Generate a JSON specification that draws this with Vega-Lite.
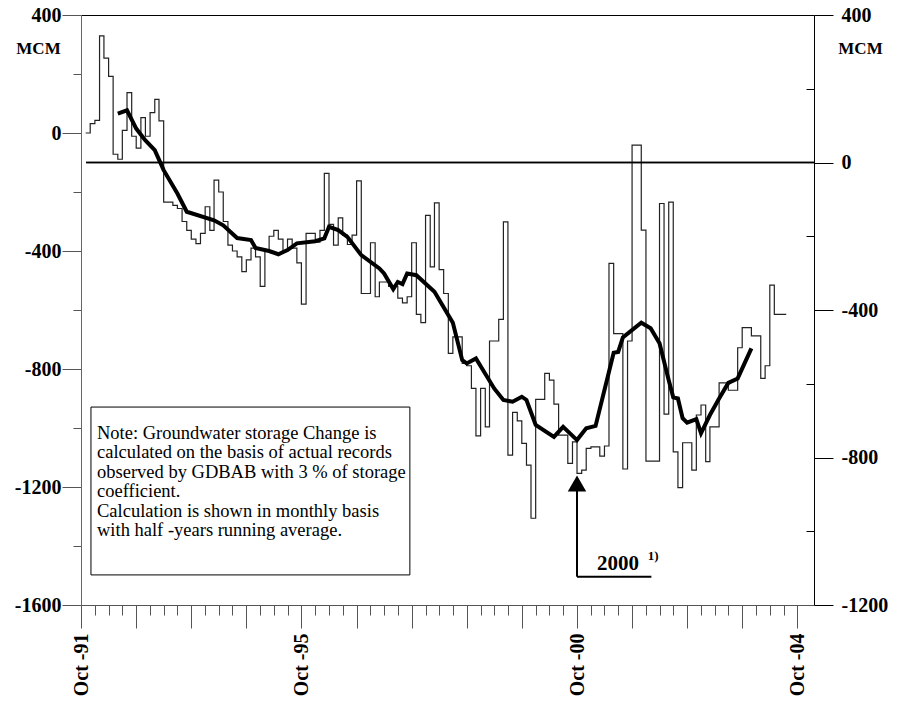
{
  "$schema": "https://vega.github.io/schema/vega-lite/v6.json",
  "width": 733,
  "height": 590,
  "autosize": "none",
  "padding": {"left": 81, "top": 15, "right": 93, "bottom": 104},
  "background": "white",
  "config": {
    "view": {"stroke": null},
    "axis": {"grid": false, "labelFont": "Liberation Serif", "titleFont": "Liberation Serif"}
  },
  "datasets": {
    "monthly": [
      {"date": "1991-11-01", "v": 0}, {"date": "1991-12-01", "v": 32}, {"date": "1992-01-01", "v": 43},
      {"date": "1992-02-01", "v": 329}, {"date": "1992-03-01", "v": 254}, {"date": "1992-04-01", "v": 192},
      {"date": "1992-05-01", "v": -72}, {"date": "1992-06-01", "v": -89}, {"date": "1992-07-01", "v": 9},
      {"date": "1992-08-01", "v": 137}, {"date": "1992-09-01", "v": -11}, {"date": "1992-10-01", "v": -51},
      {"date": "1992-11-01", "v": 52}, {"date": "1992-12-01", "v": -11}, {"date": "1993-01-01", "v": 69},
      {"date": "1993-02-01", "v": 114}, {"date": "1993-03-01", "v": 41}, {"date": "1993-04-01", "v": -234},
      {"date": "1993-05-01", "v": -234}, {"date": "1993-06-01", "v": -245}, {"date": "1993-07-01", "v": -256},
      {"date": "1993-08-01", "v": -300}, {"date": "1993-09-01", "v": -330}, {"date": "1993-10-01", "v": -360},
      {"date": "1993-11-01", "v": -375}, {"date": "1993-12-01", "v": -340}, {"date": "1994-01-01", "v": -250},
      {"date": "1994-02-01", "v": -330}, {"date": "1994-03-01", "v": -160}, {"date": "1994-04-01", "v": -200},
      {"date": "1994-05-01", "v": -300}, {"date": "1994-06-01", "v": -380}, {"date": "1994-07-01", "v": -400},
      {"date": "1994-08-01", "v": -420}, {"date": "1994-09-01", "v": -470}, {"date": "1994-10-01", "v": -430},
      {"date": "1994-11-01", "v": -390}, {"date": "1994-12-01", "v": -420}, {"date": "1995-01-01", "v": -520},
      {"date": "1995-02-01", "v": -400}, {"date": "1995-03-01", "v": -350}, {"date": "1995-04-01", "v": -330},
      {"date": "1995-05-01", "v": -360}, {"date": "1995-06-01", "v": -400}, {"date": "1995-07-01", "v": -360},
      {"date": "1995-08-01", "v": -390}, {"date": "1995-09-01", "v": -440}, {"date": "1995-10-01", "v": -580},
      {"date": "1995-11-01", "v": -340}, {"date": "1995-12-01", "v": -340}, {"date": "1996-01-01", "v": -370},
      {"date": "1996-02-01", "v": -330}, {"date": "1996-03-01", "v": -137}, {"date": "1996-04-01", "v": -310},
      {"date": "1996-05-01", "v": -380}, {"date": "1996-06-01", "v": -288}, {"date": "1996-07-01", "v": -346},
      {"date": "1996-08-01", "v": -378}, {"date": "1996-09-01", "v": -346}, {"date": "1996-10-01", "v": -162},
      {"date": "1996-11-01", "v": -544}, {"date": "1996-12-01", "v": -544}, {"date": "1997-01-01", "v": -372},
      {"date": "1997-02-01", "v": -555}, {"date": "1997-03-01", "v": -505}, {"date": "1997-04-01", "v": -505},
      {"date": "1997-05-01", "v": -520}, {"date": "1997-06-01", "v": -520}, {"date": "1997-07-01", "v": -560},
      {"date": "1997-08-01", "v": -576}, {"date": "1997-09-01", "v": -555}, {"date": "1997-10-01", "v": -372},
      {"date": "1997-11-01", "v": -615}, {"date": "1997-12-01", "v": -643}, {"date": "1998-01-01", "v": -279},
      {"date": "1998-02-01", "v": -454}, {"date": "1998-03-01", "v": -237}, {"date": "1998-04-01", "v": -463},
      {"date": "1998-05-01", "v": -544}, {"date": "1998-06-01", "v": -747}, {"date": "1998-07-01", "v": -691},
      {"date": "1998-08-01", "v": -691}, {"date": "1998-09-01", "v": -781}, {"date": "1998-10-01", "v": -789},
      {"date": "1998-11-01", "v": -866}, {"date": "1998-12-01", "v": -1027}, {"date": "1999-01-01", "v": -866},
      {"date": "1999-02-01", "v": -996}, {"date": "1999-03-01", "v": -705}, {"date": "1999-04-01", "v": -705},
      {"date": "1999-05-01", "v": -632}, {"date": "1999-06-01", "v": -301}, {"date": "1999-07-01", "v": -1092},
      {"date": "1999-08-01", "v": -947}, {"date": "1999-09-01", "v": -976}, {"date": "1999-10-01", "v": -1052},
      {"date": "1999-11-01", "v": -1126}, {"date": "1999-12-01", "v": -1306}, {"date": "2000-01-01", "v": -903},
      {"date": "2000-02-01", "v": -903}, {"date": "2000-03-01", "v": -815}, {"date": "2000-04-01", "v": -838},
      {"date": "2000-05-01", "v": -919}, {"date": "2000-06-01", "v": -1024}, {"date": "2000-07-01", "v": -1024},
      {"date": "2000-08-01", "v": -1120}, {"date": "2000-09-01", "v": -1047}, {"date": "2000-10-01", "v": -1154},
      {"date": "2000-11-01", "v": -1143}, {"date": "2000-12-01", "v": -1069}, {"date": "2001-01-01", "v": -1064},
      {"date": "2001-02-01", "v": -1064}, {"date": "2001-03-01", "v": -1095}, {"date": "2001-04-01", "v": -1061},
      {"date": "2001-05-01", "v": -442}, {"date": "2001-06-01", "v": -680}, {"date": "2001-07-01", "v": -680},
      {"date": "2001-08-01", "v": -1139}, {"date": "2001-09-01", "v": -705}, {"date": "2001-10-01", "v": -41},
      {"date": "2001-11-01", "v": -41}, {"date": "2001-12-01", "v": -329}, {"date": "2002-01-01", "v": -1112},
      {"date": "2002-02-01", "v": -1112}, {"date": "2002-03-01", "v": -1112}, {"date": "2002-04-01", "v": -239},
      {"date": "2002-05-01", "v": -953}, {"date": "2002-06-01", "v": -234}, {"date": "2002-07-01", "v": -1081},
      {"date": "2002-08-01", "v": -1202}, {"date": "2002-09-01", "v": -1050}, {"date": "2002-10-01", "v": -1050},
      {"date": "2002-11-01", "v": -1143}, {"date": "2002-12-01", "v": -956}, {"date": "2003-01-01", "v": -922},
      {"date": "2003-02-01", "v": -1114}, {"date": "2003-03-01", "v": -996}, {"date": "2003-04-01", "v": -996},
      {"date": "2003-05-01", "v": -847}, {"date": "2003-06-01", "v": -847}, {"date": "2003-07-01", "v": -872},
      {"date": "2003-08-01", "v": -872}, {"date": "2003-09-01", "v": -728}, {"date": "2003-10-01", "v": -660},
      {"date": "2003-11-01", "v": -660}, {"date": "2003-12-01", "v": -688}, {"date": "2004-01-01", "v": -688},
      {"date": "2004-02-01", "v": -832}, {"date": "2004-03-01", "v": -789}, {"date": "2004-04-01", "v": -516},
      {"date": "2004-05-01", "v": -615}, {"date": "2004-06-01", "v": -615}, {"date": "2004-07-01", "v": -615},
      {"date": "2004-07-19", "v": -615}
    ],
    "avg": [
      {"date": "1992-06-01", "v": 66}, {"date": "1992-08-01", "v": 77}, {"date": "1992-10-01", "v": 15},
      {"date": "1992-12-01", "v": -25}, {"date": "1993-02-01", "v": -58}, {"date": "1993-04-01", "v": -126},
      {"date": "1993-07-01", "v": -205}, {"date": "1993-09-01", "v": -267}, {"date": "1994-03-01", "v": -296},
      {"date": "1994-05-01", "v": -313}, {"date": "1994-08-01", "v": -356}, {"date": "1994-11-01", "v": -363},
      {"date": "1994-12-01", "v": -390}, {"date": "1995-03-01", "v": -400}, {"date": "1995-05-01", "v": -411},
      {"date": "1995-07-01", "v": -397}, {"date": "1995-09-01", "v": -374}, {"date": "1996-01-01", "v": -367},
      {"date": "1996-03-01", "v": -357}, {"date": "1996-04-01", "v": -318}, {"date": "1996-06-01", "v": -329},
      {"date": "1996-08-01", "v": -352}, {"date": "1996-11-01", "v": -414}, {"date": "1997-03-01", "v": -459},
      {"date": "1997-04-01", "v": -476}, {"date": "1997-06-01", "v": -529}, {"date": "1997-07-01", "v": -505},
      {"date": "1997-08-01", "v": -512}, {"date": "1997-09-01", "v": -476}, {"date": "1997-11-01", "v": -482},
      {"date": "1998-03-01", "v": -538}, {"date": "1998-07-01", "v": -643}, {"date": "1998-09-01", "v": -770},
      {"date": "1998-10-01", "v": -781}, {"date": "1998-12-01", "v": -764}, {"date": "1999-04-01", "v": -866},
      {"date": "1999-06-01", "v": -905}, {"date": "1999-08-01", "v": -911}, {"date": "1999-10-01", "v": -894},
      {"date": "1999-11-01", "v": -905}, {"date": "2000-01-01", "v": -990}, {"date": "2000-05-01", "v": -1030},
      {"date": "2000-07-01", "v": -996}, {"date": "2000-10-01", "v": -1041}, {"date": "2000-12-01", "v": -1001},
      {"date": "2001-02-01", "v": -993}, {"date": "2001-05-01", "v": -809}, {"date": "2001-06-01", "v": -745},
      {"date": "2001-07-01", "v": -742}, {"date": "2001-08-01", "v": -693}, {"date": "2001-12-01", "v": -643},
      {"date": "2002-02-01", "v": -662}, {"date": "2002-04-01", "v": -713}, {"date": "2002-06-01", "v": -838},
      {"date": "2002-07-01", "v": -896}, {"date": "2002-08-01", "v": -900}, {"date": "2002-09-01", "v": -967},
      {"date": "2002-10-01", "v": -982}, {"date": "2002-12-01", "v": -970}, {"date": "2003-01-01", "v": -1018},
      {"date": "2003-03-01", "v": -956}, {"date": "2003-05-01", "v": -900}, {"date": "2003-07-01", "v": -847},
      {"date": "2003-09-01", "v": -832}, {"date": "2003-12-01", "v": -730}
    ]
  },
  "layer": [
    {
      "layer": [
        {
          "data": {"values": [{}]},
          "mark": {"type": "rect", "fill": "white", "stroke": "black", "strokeWidth": 1},
          "encoding": {
            "x": {"datum": {"year": 1991, "month": 12, "date": 6, "utc": true}, "type": "temporal",
              "scale": {"type": "utc", "domain": [{"year": 1991, "month": 10, "date": 1, "utc": true}, {"year": 2005, "month": 1, "date": 19, "utc": true}]},
              "axis": {"orient": "top", "domain": true, "domainColor": "black", "domainWidth": 1, "ticks": false, "labels": false, "title": null, "grid": false}},
            "x2": {"datum": {"year": 1997, "month": 9, "date": 19, "utc": true}},
            "y": {"datum": -929, "type": "quantitative", "scale": {"domain": [-1600, 400], "nice": false, "zero": false}, "axis": null},
            "y2": {"datum": -1498}
          }
        },
        {
          "data": {"name": "monthly"},
          "mark": {"type": "line", "interpolate": "step-after", "stroke": "#222222", "strokeWidth": 1.2},
          "encoding": {
            "x": {"field": "date", "type": "temporal",
              "scale": {"type": "utc", "domain": [{"year": 1991, "month": 10, "date": 1, "utc": true}, {"year": 2005, "month": 1, "date": 19, "utc": true}]},
              "axis": {"orient": "bottom", "domain": false, "labels": false, "title": null, "grid": false, "tickSize": 10, "tickColor": "#555", "tickWidth": 1,
                "values": [
                  {"year": 1992, "month": 1, "date": 1, "utc": true}, {"year": 1992, "month": 4, "date": 1, "utc": true}, {"year": 1992, "month": 7, "date": 1, "utc": true},
                  {"year": 1993, "month": 1, "date": 1, "utc": true}, {"year": 1993, "month": 4, "date": 1, "utc": true}, {"year": 1993, "month": 7, "date": 1, "utc": true},
                  {"year": 1994, "month": 1, "date": 1, "utc": true}, {"year": 1994, "month": 4, "date": 1, "utc": true}, {"year": 1994, "month": 7, "date": 1, "utc": true},
                  {"year": 1995, "month": 1, "date": 1, "utc": true}, {"year": 1995, "month": 4, "date": 1, "utc": true}, {"year": 1995, "month": 7, "date": 1, "utc": true},
                  {"year": 1996, "month": 1, "date": 1, "utc": true}, {"year": 1996, "month": 4, "date": 1, "utc": true}, {"year": 1996, "month": 7, "date": 1, "utc": true},
                  {"year": 1997, "month": 1, "date": 1, "utc": true}, {"year": 1997, "month": 4, "date": 1, "utc": true}, {"year": 1997, "month": 7, "date": 1, "utc": true},
                  {"year": 1998, "month": 1, "date": 1, "utc": true}, {"year": 1998, "month": 4, "date": 1, "utc": true}, {"year": 1998, "month": 7, "date": 1, "utc": true},
                  {"year": 1999, "month": 1, "date": 1, "utc": true}, {"year": 1999, "month": 4, "date": 1, "utc": true}, {"year": 1999, "month": 7, "date": 1, "utc": true},
                  {"year": 2000, "month": 1, "date": 1, "utc": true}, {"year": 2000, "month": 4, "date": 1, "utc": true}, {"year": 2000, "month": 7, "date": 1, "utc": true},
                  {"year": 2001, "month": 1, "date": 1, "utc": true}, {"year": 2001, "month": 4, "date": 1, "utc": true}, {"year": 2001, "month": 7, "date": 1, "utc": true},
                  {"year": 2002, "month": 1, "date": 1, "utc": true}, {"year": 2002, "month": 4, "date": 1, "utc": true}, {"year": 2002, "month": 7, "date": 1, "utc": true},
                  {"year": 2003, "month": 1, "date": 1, "utc": true}, {"year": 2003, "month": 4, "date": 1, "utc": true}, {"year": 2003, "month": 7, "date": 1, "utc": true},
                  {"year": 2004, "month": 1, "date": 1, "utc": true}, {"year": 2004, "month": 4, "date": 1, "utc": true}, {"year": 2004, "month": 7, "date": 1, "utc": true}
                ]}},
            "y": {"field": "v", "type": "quantitative", "scale": {"domain": [-1600, 400], "nice": false, "zero": false},
              "axis": {"orient": "left", "values": [200, -200, -600, -1000, -1400], "tickSize": 8, "tickColor": "#555", "labels": false, "domain": false, "title": null, "grid": false}}
          }
        },
        {
          "data": {"name": "avg"},
          "mark": {"type": "line", "stroke": "black", "strokeWidth": 4},
          "encoding": {
            "x": {"field": "date", "type": "temporal",
              "scale": {"type": "utc", "domain": [{"year": 1991, "month": 10, "date": 1, "utc": true}, {"year": 2005, "month": 1, "date": 19, "utc": true}]},
              "axis": {"orient": "bottom", "domain": true, "domainColor": "#555", "tickSize": 23, "tickColor": "#555", "title": null, "grid": false,
                "labelExpr": "indexof([1991,1995,2000,2004], utcyear(datum.value)) >= 0 ? 'Oct -' + utcFormat(datum.value, '%y') : ''",
                "labelAngle": -90, "labelFontSize": 20, "labelFontWeight": "bold", "labelColor": "black", "labelPadding": 5, "labelOverlap": false, "labelFlush": false,
                "values": [
                  {"year": 1991, "month": 10, "date": 1, "utc": true}, {"year": 1992, "month": 10, "date": 1, "utc": true}, {"year": 1993, "month": 10, "date": 1, "utc": true},
                  {"year": 1994, "month": 10, "date": 1, "utc": true}, {"year": 1995, "month": 10, "date": 1, "utc": true}, {"year": 1996, "month": 10, "date": 1, "utc": true},
                  {"year": 1997, "month": 10, "date": 1, "utc": true}, {"year": 1998, "month": 10, "date": 1, "utc": true}, {"year": 1999, "month": 10, "date": 1, "utc": true},
                  {"year": 2000, "month": 10, "date": 1, "utc": true}, {"year": 2001, "month": 10, "date": 1, "utc": true}, {"year": 2002, "month": 10, "date": 1, "utc": true},
                  {"year": 2003, "month": 10, "date": 1, "utc": true}, {"year": 2004, "month": 10, "date": 1, "utc": true}
                ]}},
            "y": {"field": "v", "type": "quantitative", "scale": {"domain": [-1600, 400], "nice": false, "zero": false},
              "axis": {"orient": "left", "values": [400, 0, -400, -800, -1200, -1600], "tickSize": 19, "tickColor": "#555", "domainColor": "#666", "grid": false,
                "labelExpr": "'' + datum.value", "labelFontSize": 20, "labelFontWeight": "bold", "labelColor": "black", "labelPadding": 1, "labelOverlap": false, "labelFlush": false,
                "title": "MCM", "titleAngle": 0, "titleX": -43, "titleY": 33, "titleAlign": "center", "titleBaseline": "middle", "titleFontSize": 17, "titleFontWeight": "bold", "titleColor": "black"}}
          }
        },
        {
          "data": {"values": [{}]},
          "mark": {"type": "text", "text": ["Note: Groundwater storage Change is", "calculated on the basis of actual records", "observed by GDBAB with 3 % of storage", "coefficient.", "Calculation is shown in monthly basis", "with half -years running average."],
            "font": "Liberation Serif", "fontSize": 18.5, "align": "left", "baseline": "alphabetic", "lineHeight": 19.5, "color": "black"},
          "encoding": {
            "x": {"datum": {"year": 1992, "month": 1, "date": 15, "utc": true}, "type": "temporal", "axis": null},
            "y": {"datum": -1037, "type": "quantitative", "axis": null}
          }
        },
        {
          "data": {"values": [{}]},
          "mark": {"type": "rule", "stroke": "black", "strokeWidth": 2},
          "encoding": {
            "x": {"datum": {"year": 2000, "month": 10, "date": 1, "utc": true}, "type": "temporal", "axis": null},
            "y": {"datum": -1504, "type": "quantitative", "axis": null},
            "y2": {"datum": -1195}
          }
        },
        {
          "data": {"values": [{}]},
          "mark": {"type": "rule", "stroke": "black", "strokeWidth": 2},
          "encoding": {
            "x": {"datum": {"year": 2000, "month": 10, "date": 1, "utc": true}, "type": "temporal", "axis": null},
            "x2": {"datum": {"year": 2002, "month": 2, "date": 6, "utc": true}},
            "y": {"datum": -1504, "type": "quantitative", "axis": null}
          }
        },
        {
          "data": {"values": [{}]},
          "mark": {"type": "point", "shape": "triangle-up", "size": 340, "filled": true, "color": "black", "opacity": 1},
          "encoding": {
            "x": {"datum": {"year": 2000, "month": 10, "date": 1, "utc": true}, "type": "temporal", "axis": null},
            "y": {"datum": -1188, "type": "quantitative", "axis": null}
          }
        },
        {
          "data": {"values": [{}]},
          "mark": {"type": "text", "text": "2000", "font": "Liberation Serif", "fontSize": 21, "fontWeight": "bold", "align": "left", "baseline": "alphabetic", "color": "black"},
          "encoding": {
            "x": {"datum": {"year": 2001, "month": 2, "date": 10, "utc": true}, "type": "temporal", "axis": null},
            "y": {"datum": -1480, "type": "quantitative", "axis": null}
          }
        },
        {
          "data": {"values": [{}]},
          "mark": {"type": "text", "text": "1)", "font": "Liberation Serif", "fontSize": 13, "fontWeight": "bold", "align": "left", "baseline": "alphabetic", "color": "black"},
          "encoding": {
            "x": {"datum": {"year": 2002, "month": 1, "date": 13, "utc": true}, "type": "temporal", "axis": null},
            "y": {"datum": -1447, "type": "quantitative", "axis": null}
          }
        }
      ],
      "resolve": {"axis": {"x": "independent", "y": "independent"}}
    },
    {
      "layer": [
        {
          "data": {"values": [{}]},
          "mark": {"type": "rule", "stroke": "black", "strokeWidth": 1.5},
          "encoding": {
            "x": {"datum": {"year": 1991, "month": 11, "date": 4, "utc": true}, "type": "temporal",
              "scale": {"type": "utc", "domain": [{"year": 1991, "month": 10, "date": 1, "utc": true}, {"year": 2005, "month": 1, "date": 19, "utc": true}]},
              "axis": null},
            "x2": {"datum": {"year": 2005, "month": 1, "date": 19, "utc": true}},
            "y": {"datum": 0, "type": "quantitative", "scale": {"domain": [-1200, 400], "nice": false, "zero": false},
              "axis": {"orient": "right", "values": [400, 0, -400, -800, -1200], "tickSize": 19, "tickColor": "black", "domainColor": "black", "grid": false,
                "labelExpr": "'' + datum.value", "labelFontSize": 20, "labelFontWeight": "bold", "labelColor": "black", "labelPadding": 8, "labelOverlap": false, "labelFlush": false,
                "title": "MCM", "titleAngle": 0, "titleX": 46, "titleY": 33, "titleAlign": "center", "titleBaseline": "middle", "titleFontSize": 17, "titleFontWeight": "bold", "titleColor": "black"}}
          }
        },
        {
          "data": {"values": [{}]},
          "mark": {"type": "rule", "stroke": "black", "strokeWidth": 1.5},
          "encoding": {
            "x": {"datum": {"year": 1991, "month": 11, "date": 4, "utc": true}, "type": "temporal", "axis": null},
            "x2": {"datum": {"year": 2005, "month": 1, "date": 19, "utc": true}},
            "y": {"datum": 0, "type": "quantitative", "scale": {"domain": [-1200, 400], "nice": false, "zero": false},
              "axis": {"orient": "right", "values": [200, -200, -600, -1000], "tickSize": -8, "tickColor": "black", "labels": false, "domain": false, "title": null, "grid": false}}
          }
        }
      ],
      "resolve": {"axis": {"y": "independent"}}
    }
  ],
  "resolve": {"scale": {"y": "independent"}, "axis": {"x": "independent", "y": "independent"}}
}
